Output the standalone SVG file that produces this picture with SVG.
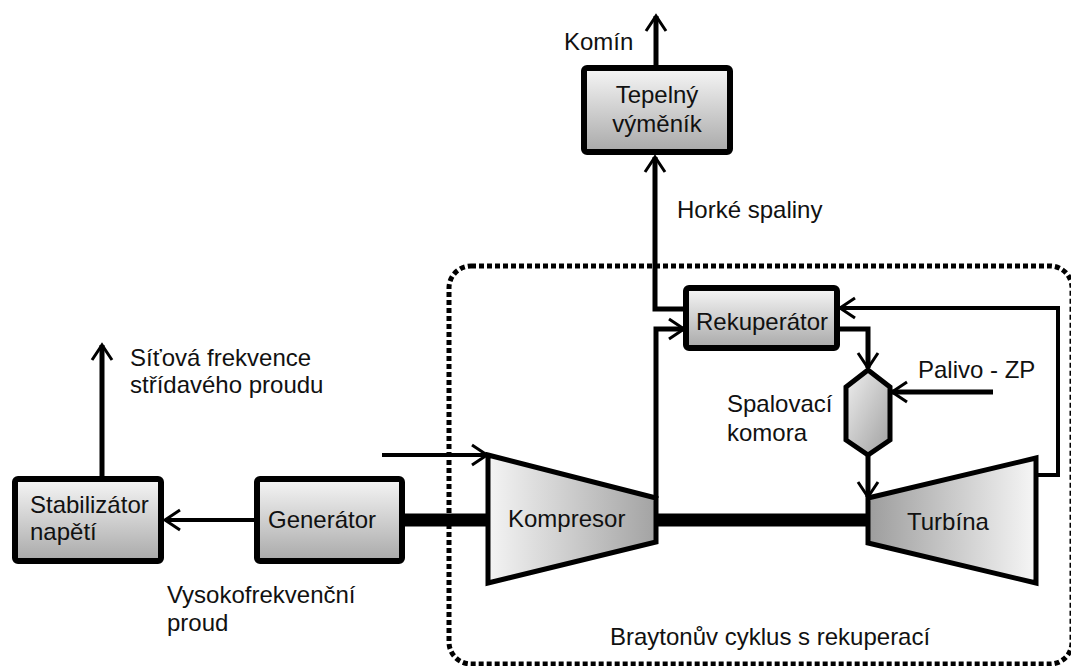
<svg xmlns="http://www.w3.org/2000/svg" width="1071" height="666" viewBox="0 0 1071 666">
<style>
text{font-family:"Liberation Sans",Arial,sans-serif;font-size:24px;fill:#111}
.box{stroke:#000;stroke-width:6;fill:url(#gBox)}
.ln{fill:none;stroke:#000;stroke-width:5}
.thin{fill:none;stroke:#000;stroke-width:4}
.shaft{fill:none;stroke:#000;stroke-width:13}
.arr{marker-end:url(#ah)}
</style>
<defs>
<linearGradient id="gBox" x1="0" y1="0" x2="0" y2="1">
<stop offset="0" stop-color="#f6f6f6"/><stop offset="1" stop-color="#a9a9a9"/>
</linearGradient>
<linearGradient id="gComp" x1="0" y1="0" x2="1" y2="0">
<stop offset="0" stop-color="#f4f4f4"/><stop offset="1" stop-color="#a3a3a3"/>
</linearGradient>
<linearGradient id="gTurb" x1="0" y1="0" x2="1" y2="0">
<stop offset="0" stop-color="#9d9d9d"/><stop offset="1" stop-color="#f6f6f6"/>
</linearGradient>
<linearGradient id="gComb" x1="0" y1="0" x2="1" y2="1">
<stop offset="0" stop-color="#f0f0f0"/><stop offset="1" stop-color="#a0a0a0"/>
</linearGradient>
<marker id="ah" markerUnits="userSpaceOnUse" markerWidth="22" markerHeight="22" refX="18" refY="11" orient="auto" overflow="visible">
<path d="M3,1 L18,11 L3,21" fill="none" stroke="#000" stroke-width="3"/>
</marker>
</defs>

<g id="cycle-border">
<rect x="449" y="266" width="623" height="398" rx="22" fill="none" stroke="#000" stroke-width="5" stroke-dasharray="5 3"/>
</g>

<g id="connectors">
<line class="ln arr" x1="656" y1="65" x2="656" y2="16"/>
<path class="ln arr" d="M686,309 H655 V157"/>
<path class="ln arr" d="M656,498 V329 H684"/>
<path class="ln arr" d="M837,329 H868 V368"/>
<path class="thin arr" d="M1037,475 H1058 V308 H840"/>
<line class="ln arr" x1="993" y1="392" x2="892" y2="392"/>
<line class="ln arr" x1="868" y1="456" x2="868" y2="497"/>
<line class="thin arr" x1="382" y1="455" x2="487" y2="455"/>
<line class="thin arr" x1="254" y1="520" x2="165" y2="520"/>
<line class="ln arr" x1="102" y1="476" x2="102" y2="345"/>
<line class="shaft" x1="405" y1="520" x2="489" y2="520"/>
<line class="shaft" x1="656" y1="520" x2="869" y2="520"/>
</g>

<g id="tepelny-vymenik">
<rect class="box" x="584" y="68" width="146" height="84" rx="3"/>
<text x="657" y="103" text-anchor="middle">Tepelný</text>
<text x="657" y="132" text-anchor="middle">výměník</text>
</g>

<g id="rekuperator">
<rect class="box" x="686" y="288" width="151" height="60" rx="3"/>
<text x="762" y="330" text-anchor="middle">Rekuperátor</text>
</g>

<g id="spalovaci-komora">
<polygon points="868,370 890,387 890,440 868,455 846,440 846,387" fill="url(#gComb)" stroke="#000" stroke-width="5" stroke-linejoin="miter"/>
</g>

<g id="kompresor">
<polygon points="488,455 656,498 656,542 488,583" fill="url(#gComp)" stroke="#000" stroke-width="5"/>
<text x="508" y="527">Kompresor</text>
</g>

<g id="turbina">
<polygon points="868,498 1036,458 1036,583 868,543" fill="url(#gTurb)" stroke="#000" stroke-width="5"/>
<text x="907" y="530">Turbína</text>
</g>

<g id="generator">
<rect class="box" x="257" y="479" width="145" height="82" rx="3"/>
<text x="268" y="528">Generátor</text>
</g>

<g id="stabilizator">
<rect class="box" x="15" y="479" width="146" height="82" rx="3"/>
<text x="30" y="513">Stabilizátor</text>
<text x="30" y="540">napětí</text>
</g>

<g id="labels">
<text x="564" y="50">Komín</text>
<text x="677" y="218">Horké spaliny</text>
<text x="918" y="378">Palivo - ZP</text>
<text x="727" y="412">Spalovací</text>
<text x="727" y="441">komora</text>
<text x="130" y="366">Síťová frekvence</text>
<text x="130" y="393">střídavého proudu</text>
<text x="167" y="603">Vysokofrekvenční</text>
<text x="167" y="631">proud</text>
<text x="610" y="645">Braytonův cyklus s rekuperací</text>
</g>
</svg>
